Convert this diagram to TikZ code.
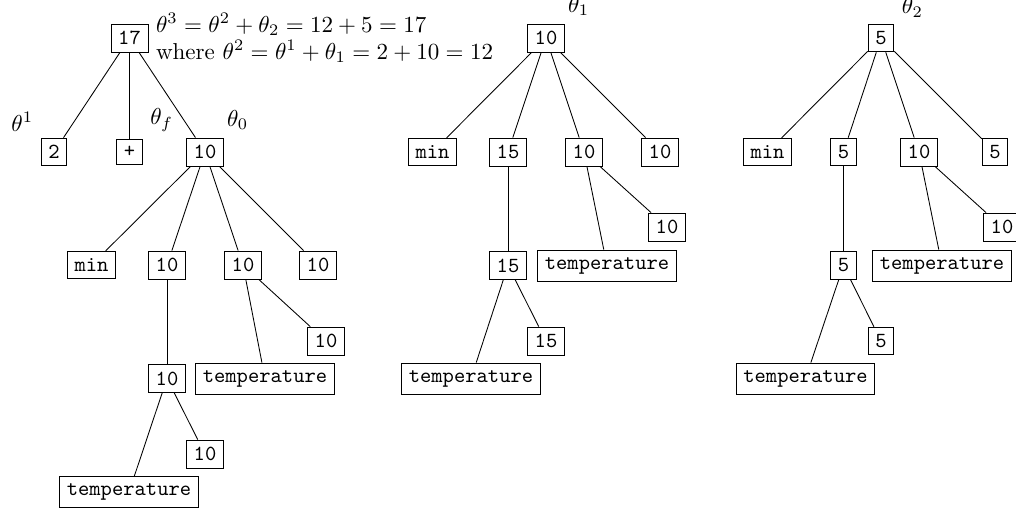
\RequirePackage{fix-cm}
\documentclass[tikz,border=0pt]{standalone}
\usetikzlibrary{positioning}
\begin{document}
\begin{tikzpicture}[x=0.4645pt, y=-0.4645pt, box/.style={draw, font=\ttfamily},
    txt/.style={font=\fontsize{10.7}{12.5}\selectfont}, every label/.style={txt}]
    \useasboundingbox (0, 0) rectangle (1016, 510);
    \clip (0, 0) rectangle (1016, 510);
    % left tree
    \node[box] (r17) at (129.5, 38) {17};
    \node[txt, anchor=west, align=left] (eq) at (r17.east)
        {$\theta^3 = \theta^2 + \theta_2 = 12 + 5 = 17$\\
         where $\theta^2 = \theta^1 + \theta_1 = 2 + 10 = 12$};
    \node[box, label={above left:$\theta^1$}] (a2) at (54, 152) {2};
    \node[box, label={above right:$\theta_f$}] (aplus) at (129.5, 152) {+};
    \node[box, label={above right:$\theta_0$}] (a10) at (205, 152) {10};
    \node[box] (bmin) at (91.5, 265) {min};
    \node[box] (b10a) at (167, 265) {10};
    \node[box] (b10b) at (243, 265) {10};
    \node[box] (b10c) at (318, 265) {10};
    \node[box] (c10) at (167, 378.5) {10};
    \node[box] (ctemp) at (265, 378.5) {temperature};
    \node[box] (cnum) at (326, 341) {10};
    \node[box] (dtemp) at (129, 492) {temperature};
    \node[box] (dnum) at (205, 454) {10};
    % middle tree
    \node[box, label={above right:$\theta_1$}] (m10) at (546, 38) {10};
    \node[box] (mmin) at (432.5, 152) {min};
    \node[box] (m15) at (508, 152) {15};
    \node[box] (m10b) at (584, 152) {10};
    \node[box] (m10c) at (660, 152) {10};
    \node[box] (n15) at (508, 265.5) {15};
    \node[box] (ntemp) at (607, 265.5) {temperature};
    \node[box] (nnum) at (667, 227) {10};
    \node[box] (otemp) at (471, 378.5) {temperature};
    \node[box] (onum) at (546, 341) {15};
    % right tree
    \node[box, label={above right:$\theta_2$}] (r5) at (881, 38) {5};
    \node[box] (smin) at (767.5, 152) {min};
    \node[box] (s5) at (843.5, 152) {5};
    \node[box] (s10b) at (919, 152) {10};
    \node[box] (s5c) at (995, 152) {5};
    \node[box] (t5) at (843.5, 265.5) {5};
    \node[box] (ttemp) at (942, 265.5) {temperature};
    \node[box] (tnum) at (1002, 227) {10};
    \node[box] (utemp) at (805.5, 378.5) {temperature};
    \node[box] (unum) at (881, 341) {5};
    \foreach \p/\c in {r17/a2, r17/aplus, r17/a10, a10/bmin, a10/b10a, a10/b10b, a10/b10c,
        b10a/c10, b10b/ctemp, b10b/cnum, c10/dtemp, c10/dnum,
        m10/mmin, m10/m15, m10/m10b, m10/m10c, m15/n15, m10b/ntemp, m10b/nnum, n15/otemp, n15/onum,
        r5/smin, r5/s5, r5/s10b, r5/s5c, s5/t5, s10b/ttemp, s10b/tnum, t5/utemp, t5/unum}
        \draw (\p) -- (\c);
\end{tikzpicture}
\end{document}
